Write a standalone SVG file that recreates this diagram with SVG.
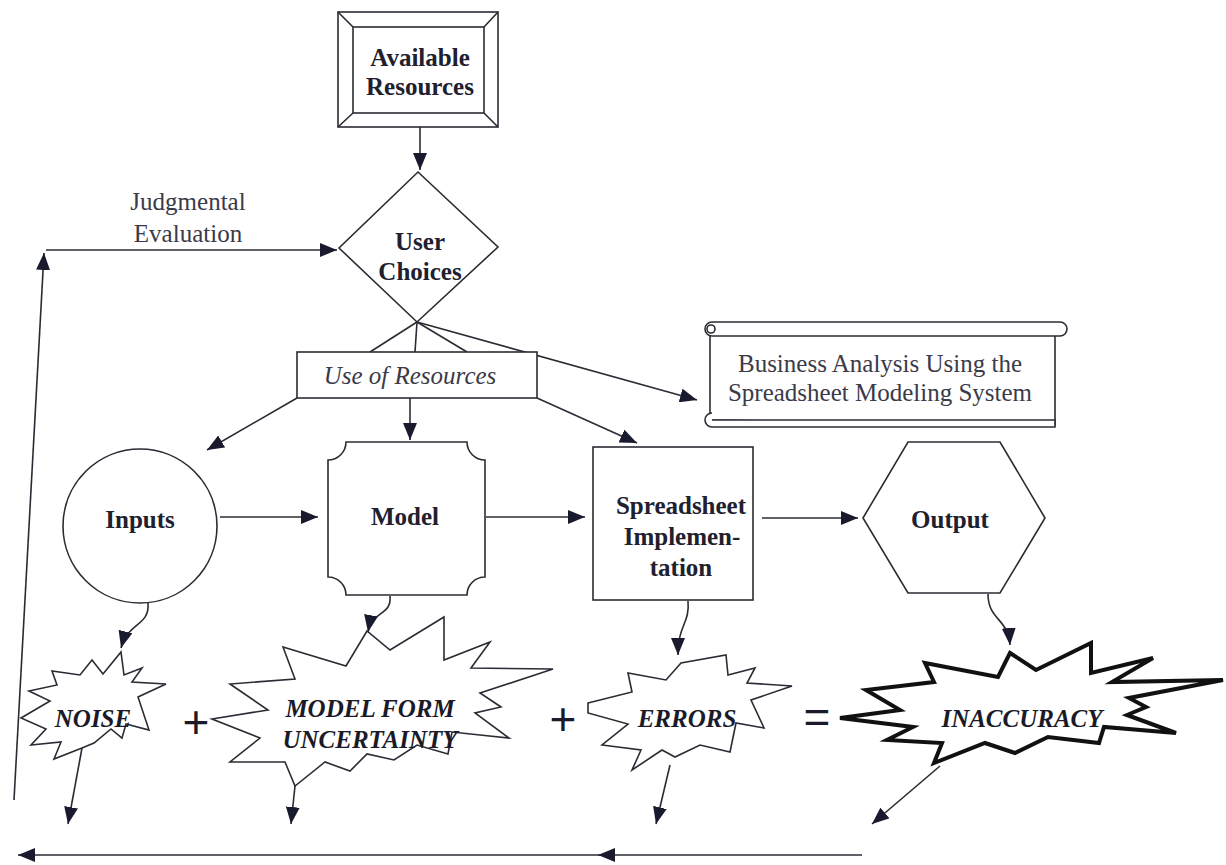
<svg xmlns="http://www.w3.org/2000/svg" width="1226" height="865" viewBox="0 0 1226 865">
<defs>
<style>
.ln{fill:none;stroke:#2b2b35;stroke-width:1.6}
.nd{fill:#fff;stroke:#2b2b35;stroke-width:1.6}
.b{font-family:"Liberation Serif",serif;font-weight:bold;font-size:25px;fill:#20202e;text-anchor:middle}
.r{font-family:"Liberation Serif",serif;font-size:25px;fill:#3a3a48;text-anchor:middle}
.i{font-family:"Liberation Serif",serif;font-style:italic;font-size:25px;fill:#3a3a48;text-anchor:middle}
.bi{font-family:"Liberation Serif",serif;font-style:italic;font-weight:bold;font-size:25px;fill:#1a1a28;text-anchor:middle}
.op{font-family:"Liberation Sans",sans-serif;font-size:46px;fill:#1a1a28;text-anchor:middle}
</style>
<marker id="ah" markerUnits="userSpaceOnUse" markerWidth="18" markerHeight="14" refX="17" refY="7" orient="auto">
<path d="M0,0 L17,7 L0,14 z" fill="#1a1a2e"/>
</marker>
</defs>
<rect width="1226" height="865" fill="#fff"/>

<g id="connectors">
<path class="ln" d="M420,127 L420,170" marker-end="url(#ah)"/>
<path class="ln" d="M46,250 L337,250" marker-end="url(#ah)"/>
<path class="ln" d="M14,800 L44,253" marker-end="url(#ah)"/>
<path class="ln" d="M417,322 L370,352"/>
<path class="ln" d="M417,322 L415,352"/>
<path class="ln" d="M417,322 L467,352"/>
<path class="ln" d="M417,322 L697,400" marker-end="url(#ah)"/>
<path class="ln" d="M297,398 L207,450" marker-end="url(#ah)"/>
<path class="ln" d="M410,398 L410,440" marker-end="url(#ah)"/>
<path class="ln" d="M537,398 L637,443" marker-end="url(#ah)"/>
<path class="ln" d="M220,517 L318,517" marker-end="url(#ah)"/>
<path class="ln" d="M486,517 L585,517" marker-end="url(#ah)"/>
<path class="ln" d="M762,518 L858,518" marker-end="url(#ah)"/>
<path class="ln" d="M148,603 C150,626 128,622 121,648" marker-end="url(#ah)"/>
<path class="ln" d="M390,596 C392,616 372,610 368,632" marker-end="url(#ah)"/>
<path class="ln" d="M688,601 C690,624 678,624 678,655" marker-end="url(#ah)"/>
<path class="ln" d="M988,594 C988,620 1008,618 1010,645" marker-end="url(#ah)"/>
<path class="ln" d="M82,748 L68,824" marker-end="url(#ah)"/>
<path class="ln" d="M295,786 L291,824" marker-end="url(#ah)"/>
<path class="ln" d="M670,765 L656,824" marker-end="url(#ah)"/>
<path class="ln" d="M940,766 L872,824" marker-end="url(#ah)"/>
<path class="ln" d="M862,855 L598,855" marker-end="url(#ah)"/>
<path class="ln" d="M600,855 L18,855" marker-end="url(#ah)"/>
</g>

<g id="available-resources">
<rect class="nd" x="338" y="12" width="160" height="115"/>
<rect class="nd" x="353" y="27" width="131" height="86"/>
<path class="ln" d="M338,12 L353,27 M498,12 L484,27 M338,127 L353,113 M498,127 L484,113"/>
<text class="b" x="420" y="66">Available</text>
<text class="b" x="420" y="95">Resources</text>
</g>

<g id="judgmental-evaluation">
<text class="r" x="188" y="210">Judgmental</text>
<text class="r" x="188" y="242">Evaluation</text>
</g>

<g id="user-choices">
<polygon class="nd" points="418,172 498,247 417,322 339,248"/>
<text class="b" x="420" y="250">User</text>
<text class="b" x="420" y="280">Choices</text>
</g>

<g id="use-of-resources">
<rect class="nd" x="297" y="352" width="240" height="46"/>
<text class="i" x="410" y="384">Use of Resources</text>
</g>

<g id="business-analysis">
<path class="nd" d="M710,330 L710,420 L1055,425 L1055,336"/>
<rect class="nd" x="705" y="322" width="362" height="14" rx="7"/>
<circle class="nd" cx="711" cy="329" r="4"/>
<path class="nd" d="M712,413 A7,7 0 1 0 712,427 L1055,427 L1055,420 L712,420"/>
<text class="r" x="880" y="372">Business Analysis Using the</text>
<text class="r" x="880" y="401">Spreadsheet Modeling System</text>
</g>

<g id="inputs">
<circle class="nd" cx="140" cy="526" r="77"/>
<text class="b" x="140" y="528">Inputs</text>
</g>

<g id="model">
<path class="nd" d="M346,442 L467,442 A18,18 0 0 0 485,460 L485,577 A18,18 0 0 0 467,595 L346,595 A18,18 0 0 0 328,577 L328,460 A18,18 0 0 0 346,442 Z"/>
<text class="b" x="405" y="525">Model</text>
</g>

<g id="spreadsheet-implementation">
<rect class="nd" x="593" y="447" width="160" height="153"/>
<text class="b" x="681" y="514">Spreadsheet</text>
<text class="b" x="682" y="545">Implemen-</text>
<text class="b" x="681" y="576">tation</text>
</g>

<g id="output">
<polygon class="nd" points="863,518 908,442 1000,442 1045,518 1000,593 908,593"/>
<text class="b" x="950" y="528">Output</text>
</g>

<g id="noise">
<polygon class="nd" points="21,718 50,701 29,691 57,685 52,671 80,675 92,660 103,674 121,652 124,675 142,668 132,682 166,684 138,697 149,730 126,724 122,738 111,729 94,743 82,748 54,759 61,742 31,745 46,729"/>
<text class="bi" x="93" y="727">NOISE</text>
</g>

<text id="plus1" class="op" x="196" y="738">+</text>

<g id="model-form-uncertainty">
<polygon class="nd" points="212,719 268,710 230,684 295,679 283,647 346,666 367,631 390,650 444,617 444,660 490,642 471,668 553,669 480,693 501,707 475,713 509,738 452,732 448,754 417,745 394,760 367,754 350,771 325,762 295,786 285,762 230,762 260,738"/>
<text class="bi" x="370" y="717">MODEL FORM</text>
<text class="bi" x="370" y="748">UNCERTAINTY</text>
</g>

<text id="plus2" class="op" x="563" y="735">+</text>

<g id="errors">
<polygon class="nd" points="588,703 632,692 628,673 666,680 681,663 726,655 728,675 755,668 747,683 792,686 751,700 764,728 736,723 730,752 700,745 675,757 662,750 632,770 641,750 602,745 628,724 588,713"/>
<text class="bi" x="687" y="727">ERRORS</text>
</g>

<text id="equals" class="op" x="817" y="733">=</text>

<g id="inaccuracy">
<polygon class="nd" style="stroke-width:4;stroke:#111;stroke-linejoin:miter" points="840,718 900,710 866,690 934,682 925,663 998,677 1010,653 1036,670 1091,643 1091,673 1153,658 1112,682 1223,680 1129,698 1146,707 1127,715 1176,733 1104,727 1099,743 1048,737 1015,753 985,743 934,763 942,743 887,740 913,727"/>
<text class="bi" x="1022" y="727">INACCURACY</text>
</g>
</svg>
